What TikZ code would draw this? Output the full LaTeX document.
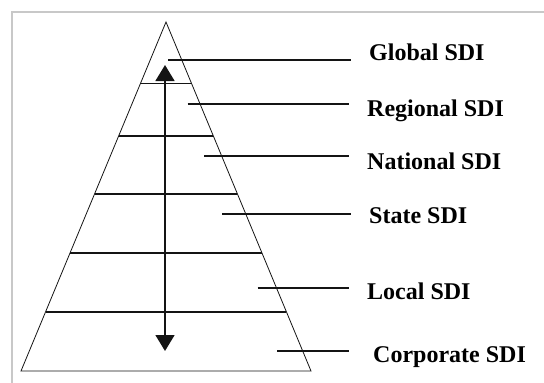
\documentclass[tikz,border=0pt]{standalone}
\usepackage{fontspec}
\setmainfont{Liberation Serif}
\usepackage{xcolor}
\definecolor{sdigray}{RGB}{200,200,200}
\definecolor{sdiblack}{RGB}{20,20,20}
\usetikzlibrary{arrows.meta, calc}

\begin{document}
\begin{tikzpicture}[x=1pt, y=-1pt,
    side/.style={sdiblack, line width=0.8pt, line join=miter},
    level/.style={sdiblack, line width=1.5pt},
    leader/.style={sdiblack, line width=1.5pt, shorten >=18pt},
    lbl/.style={anchor=base west, inner sep=0pt, font=\fontsize{24}{28}\selectfont\bfseries}]
  \useasboundingbox (0,0) rectangle (544,383);

  % Frame: grey border on top and left
  \draw[sdigray, line width=2pt] (12,383) -- (12,12) -- (544,12);

  % Pyramid
  \coordinate (apex) at (166,22);
  \coordinate (bl) at (21,371);
  \coordinate (br) at (311,371);
  \draw[side] (bl) -- (apex) -- (br) -- cycle;

  % Levels across the pyramid
  \foreach \t in {0.1765, 0.327, 0.493, 0.662, 0.831}
    \draw[level] ($(apex)!\t!(bl)$) -- ($(apex)!\t!(br)$);

  % Two-way arrow
  \coordinate (up) at (165,65);
  \coordinate (down) at (165,351);
  \draw[sdiblack, line width=1.5pt, {Triangle[width=19pt,length=16pt]}-{Triangle[width=19pt,length=16pt]}] (up) -- (down);

  % Labels
  \node[lbl] (glob) at (369,60) {Global SDI};
  \node[lbl] (regi) at (367,116.4) {Regional SDI};
  \node[lbl] (nati) at (367,169) {National SDI};
  \node[lbl] (stat) at (369,223.4) {State SDI};
  \node[lbl] (loca) at (367,299.3) {Local SDI};
  \node[lbl] (corp) at (373,362) {Corporate SDI};

  % Leader lines from each band to its label
  \coordinate (globA) at (168,60);
  \coordinate (regiA) at (187.5,104);
  \coordinate (natiA) at (204,156);
  \coordinate (statA) at (222,214);
  \coordinate (locaA) at (257.6,288);
  \coordinate (corpA) at (277,351);
  \draw[leader] (globA) -- (globA -| glob.west);
  \draw[leader] (regiA) -- (regiA -| regi.west);
  \draw[leader] (natiA) -- (natiA -| nati.west);
  \draw[leader] (statA) -- (statA -| stat.west);
  \draw[leader] (locaA) -- (locaA -| loca.west);
  \draw[leader, shorten >=24pt] (corpA) -- (corpA -| corp.west);
\end{tikzpicture}
\end{document}
